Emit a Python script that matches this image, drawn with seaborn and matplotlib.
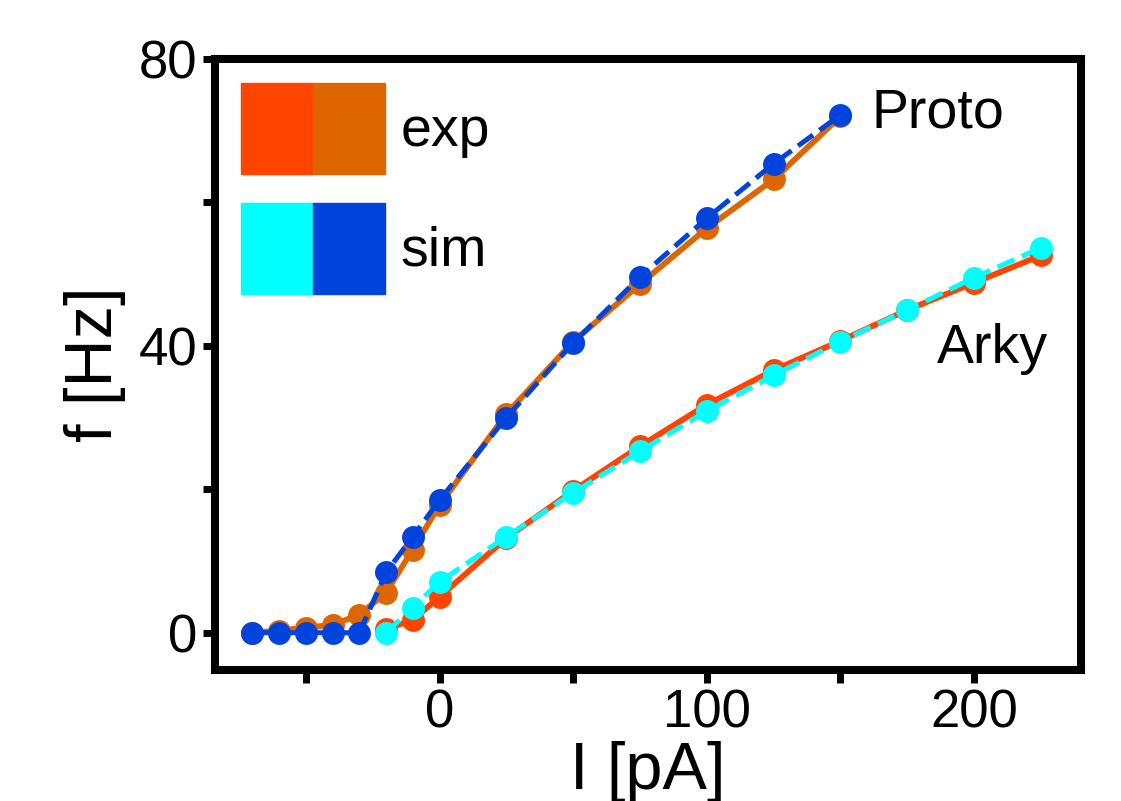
import matplotlib
matplotlib.use('Agg')
import matplotlib.pyplot as plt
import seaborn as sns
import pandas as pd
from matplotlib.patches import Patch
from matplotlib.legend_handler import HandlerTuple

# Daten: Strom I [pA] und Feuerrate f [Hz]
proto_I = [-70, -60, -50, -40, -30, -20, -10, 0, 25, 50, 75, 100, 125, 150]
proto_exp = [0, 0.3, 0.7, 1.1, 2.5, 5.6, 11.6, 17.8, 30.5, 40.6, 48.6, 56.4, 63.2, 72.0]
proto_sim = [0, 0, 0, 0, 0, 8.4, 13.4, 18.5, 30.0, 40.4, 49.6, 57.8, 65.4, 72.2]

arky_I = [-20, -10, 0, 25, 50, 75, 100, 125, 150, 175, 200, 225]
arky_exp = [0.5, 1.8, 5.0, 13.2, 19.8, 26.0, 31.8, 36.6, 40.7, 45.0, 48.8, 52.6]
arky_sim = [0.0, 3.5, 7.1, 13.4, 19.5, 25.3, 30.9, 35.9, 40.6, 45.0, 49.5, 53.7]

x_ticks = [-50, 0, 50, 100, 150, 200]
x_labels = ['', '0', '', '100', '', '200']
y_ticks = [0, 20, 40, 60, 80]
y_labels = ['0', '', '40', '', '80']

c_arky_exp = '#FF4400'
c_proto_exp = '#DD6600'
c_arky_sim = '#00FFFF'
c_proto_sim = '#0044DD'

sns.set_style('ticks')
plt.rcParams['font.family'] = ['Liberation Sans', 'DejaVu Sans']
plt.rcParams['text.color'] = 'black'
plt.rcParams['axes.labelcolor'] = 'black'

df_proto = pd.DataFrame({'I': proto_I, 'exp': proto_exp, 'sim': proto_sim})
df_arky = pd.DataFrame({'I': arky_I, 'exp': arky_exp, 'sim': arky_sim})

fig, ax = plt.subplots(figsize=(11.21, 8.01), dpi=100)
fig.subplots_adjust(left=215 / 1121, right=1081 / 1121,
                    bottom=1 - 670 / 801, top=1 - 59 / 801)

ms = 16.5
# Arky
sns.lineplot(data=df_arky, x='I', y='exp', color=c_arky_exp, lw=4.2,
             marker='o', markersize=ms, markeredgewidth=0, ax=ax)
sns.lineplot(data=df_arky, x='I', y='sim', color=c_arky_sim, lw=3.6,
             linestyle='--', marker='o', markersize=ms, markeredgewidth=0, ax=ax)
# Proto
sns.lineplot(data=df_proto, x='I', y='exp', color=c_proto_exp, lw=4.2,
             marker='o', markersize=ms, markeredgewidth=0, ax=ax)
sns.lineplot(data=df_proto, x='I', y='sim', color=c_proto_sim, lw=3.6,
             linestyle='--', marker='o', markersize=ms, markeredgewidth=0, ax=ax)

ax.text(161.5, 70.5, 'Proto', fontsize=40, va='baseline', ha='left')
ax.text(186, 37.6, 'Arky', fontsize=40, va='baseline', ha='left')

ax.set_xlim(-84, 240)
ax.set_ylim(-5.2, 80)
ax.set_xticks(x_ticks, x_labels)
ax.set_yticks(y_ticks, y_labels)
ax.tick_params(axis='both', direction='out', length=9, width=5,
               labelsize=38, pad=4, color='black', labelcolor='black')
for sp in ax.spines.values():
    sp.set_visible(True)
    sp.set_linewidth(5.8)
    sp.set_color('black')

ax.set_xlabel('I [pA]', fontsize=48, labelpad=2)
ax.set_ylabel('f [Hz]', fontsize=48, labelpad=9)

handles = [(Patch(color=c_arky_exp), Patch(color=c_proto_exp)),
           (Patch(color=c_arky_sim), Patch(color=c_proto_sim))]
ax.legend(handles, ['exp', 'sim'], handler_map={tuple: HandlerTuple(ndivide=None, pad=0)},
          loc='upper left', bbox_to_anchor=(26 / 866, 1 - 24 / 611),
          frameon=False, fontsize=40, borderaxespad=0, borderpad=0,
          handlelength=2.59, handleheight=2.14, handletextpad=0.28,
          labelspacing=0.52)

plt.savefig('out.png', dpi=100)
